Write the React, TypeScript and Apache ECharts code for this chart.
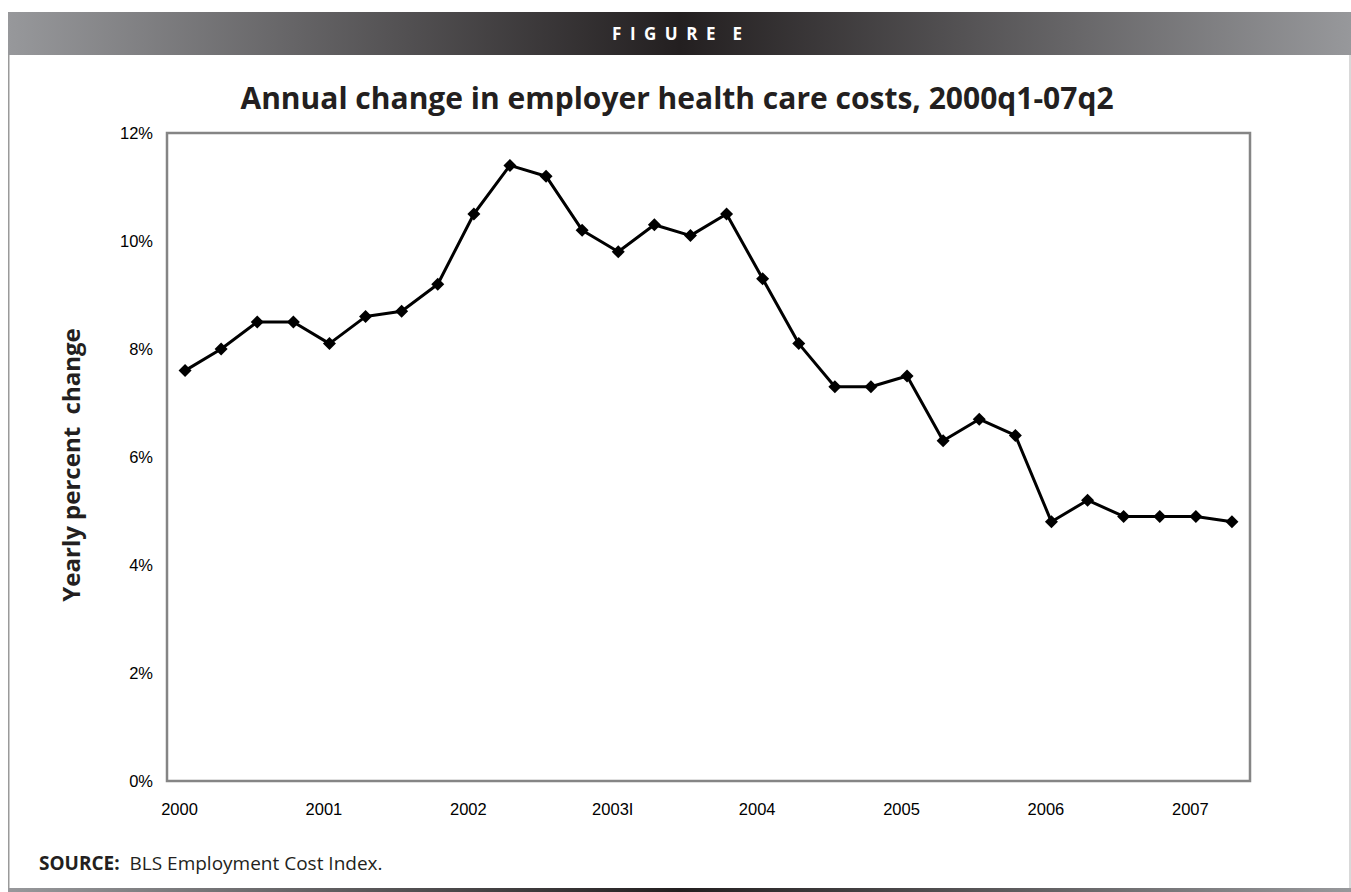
import React, { useEffect, useRef } from "react";
import * as echarts from "echarts";

const quarters: string[] = [
  "2000q1", "2000q2", "2000q3", "2000q4",
  "2001q1", "2001q2", "2001q3", "2001q4",
  "2002q1", "2002q2", "2002q3", "2002q4",
  "2003q1", "2003q2", "2003q3", "2003q4",
  "2004q1", "2004q2", "2004q3", "2004q4",
  "2005q1", "2005q2", "2005q3", "2005q4",
  "2006q1", "2006q2", "2006q3", "2006q4",
  "2007q1", "2007q2",
];

const yearLabels: string[] = ["2000", "2001", "2002", "2003I", "2004", "2005", "2006", "2007"];

const healthCostChange: number[] = [
  7.6, 8.0, 8.5, 8.5,
  8.1, 8.6, 8.7, 9.2,
  10.5, 11.4, 11.2, 10.2,
  9.8, 10.3, 10.1, 10.5,
  9.3, 8.1, 7.3, 7.3,
  7.5, 6.3, 6.7, 6.4,
  4.8, 5.2, 4.9, 4.9,
  4.9, 4.8,
];

const yTicks = { min: 0, max: 12, interval: 2 };

export default function App() {
  const ref = useRef<HTMLDivElement>(null);

  useEffect(() => {
    if (!ref.current) return;
    const chart = echarts.init(ref.current, null, { renderer: "svg" });
    const barGradient = () =>
      new echarts.graphic.LinearGradient(0, 0, 1, 0, [
        { offset: 0, color: "#97989b" },
        { offset: 0.5, color: "#231f20" },
        { offset: 1, color: "#97989b" },
      ]);
    const sp = "\u2002";
    chart.setOption({
      animation: false,
      backgroundColor: "#ffffff",
      grid: {
        left: 167,
        right: 101,
        top: 133,
        bottom: 111,
        show: true,
        borderColor: "#858585",
        borderWidth: 2.5,
        backgroundColor: "transparent",
      },
      xAxis: {
        type: "category",
        data: quarters,
        boundaryGap: true,
        axisLine: { show: false },
        axisTick: { show: false },
        splitLine: { show: false },
        axisLabel: {
          interval: 0,
          margin: 19,
          padding: [0, 11, 0, 0],
          color: "#000",
          fontFamily: "Liberation Sans, Arial, sans-serif",
          fontSize: 16.5,
          formatter: (_v: string, idx: number) => (idx % 4 === 0 ? yearLabels[idx / 4] : ""),
        },
      },
      yAxis: {
        type: "value",
        min: yTicks.min,
        max: yTicks.max,
        interval: yTicks.interval,
        axisLine: { show: false },
        axisTick: { show: false },
        splitLine: { show: false },
        axisLabel: {
          margin: 14,
          color: "#000",
          fontFamily: "Liberation Sans, Arial, sans-serif",
          fontSize: 16.5,
          formatter: (v: number) => `${v}%`,
        },
      },
      series: [
        {
          type: "line",
          data: healthCostChange,
          symbol: "diamond",
          symbolSize: 13,
          lineStyle: { color: "#000", width: 3 },
          itemStyle: { color: "#000" },
        },
      ],
      graphic: [
        {
          type: "rect",
          shape: { x: 8, y: 12, width: 1343, height: 43 },
          style: { fill: barGradient() },
          silent: true,
        },
        {
          type: "text",
          x: 677,
          y: 33.5,
          style: {
            text: ["F", "I", "G", "U", "R", "E"].join(sp) + sp + sp + "E",
            fill: "#ffffff",
            font: "bold 17px 'Open Sans', sans-serif",
            textAlign: "center",
            textVerticalAlign: "middle",
          },
        },
        {
          type: "line",
          shape: { x1: 8.75, y1: 55, x2: 8.75, y2: 888 },
          style: { stroke: "#9a9a9a", lineWidth: 1.5 },
        },
        {
          type: "line",
          shape: { x1: 1350, y1: 55, x2: 1350, y2: 888 },
          style: { stroke: "#cccccc", lineWidth: 1.5 },
        },
        {
          type: "rect",
          shape: { x: 8, y: 888, width: 1343, height: 4 },
          style: { fill: barGradient() },
          silent: true,
        },
        {
          type: "text",
          x: 677,
          y: 97,
          style: {
            text: "Annual change in employer health care costs, 2000q1-07q2",
            fill: "#231f20",
            font: "bold 30px 'Open Sans', sans-serif",
            textAlign: "center",
            textVerticalAlign: "middle",
          },
        },
        {
          type: "text",
          x: 70,
          y: 465,
          rotation: Math.PI / 2,
          style: {
            text: "Yearly percent  change",
            fill: "#231f20",
            font: "bold 24px 'Open Sans', sans-serif",
            textAlign: "center",
            textVerticalAlign: "middle",
          },
        },
        {
          type: "text",
          x: 39,
          y: 863,
          style: {
            text: "{b|SOURCE:}  BLS Employment Cost Index.",
            fill: "#231f20",
            font: "19px 'Open Sans', sans-serif",
            textVerticalAlign: "middle",
            rich: {
              b: { font: "bold 19px 'Open Sans', sans-serif", fill: "#231f20" },
            },
          },
        },
      ],
    });
    return () => chart.dispose();
  }, []);

  return (
    <div
      ref={ref}
      style={{ position: "absolute", left: 0, top: 0, width: 1351, height: 892 }}
    />
  );
}
